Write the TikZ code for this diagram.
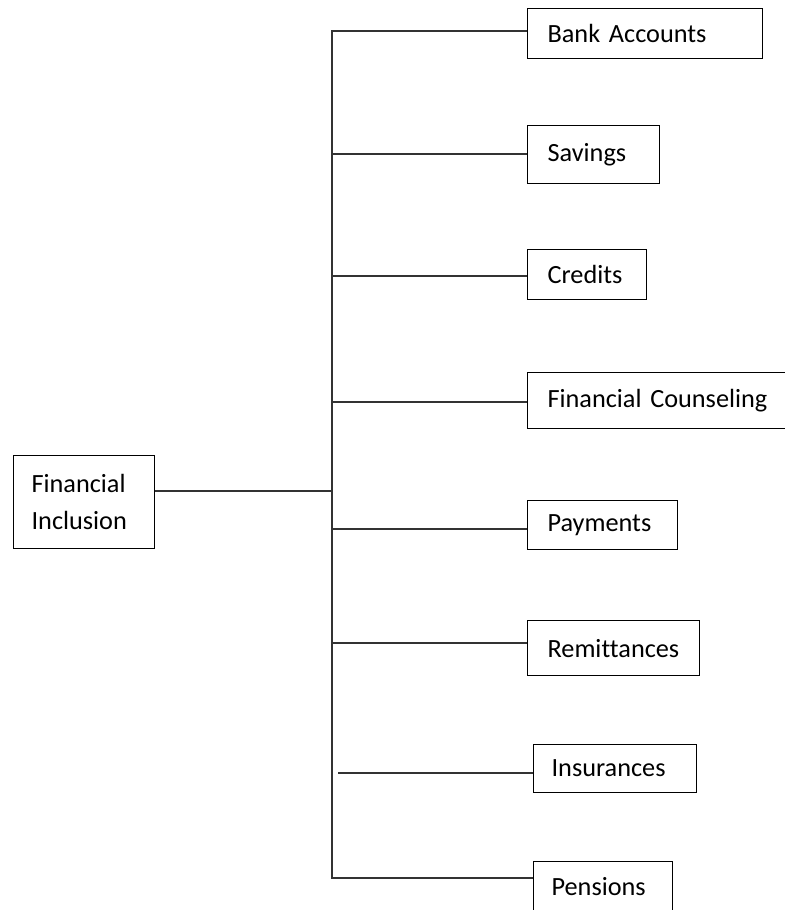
\documentclass[tikz,border=0pt]{standalone}
\usepackage{fontspec}
\setmainfont{Carlito}[Ligatures=NoCommon]
\usepackage{tikz}
\usetikzlibrary{calc}

\begin{document}
\begin{tikzpicture}[x=0.75pt,y=-0.75pt,line join=miter,
    item/.style={draw=black,line width=0.9pt,anchor=north west,align=left,
      inner xsep=15pt,inner ysep=0pt,font=\fontsize{19.7}{27.7}\selectfont},
    link/.style={draw=black!80,line width=1pt}]
  % canvas: 785 x 910 px, origin top left
  \useasboundingbox (0,0) rectangle (785,910);
  \clip (0,0) rectangle (785,910);
  % root box and the leaves on the right
  \node[item,inner xsep=13.5pt,text width=78.75pt,minimum height=69.75pt] (incl) at (13,455) {Financial\\Inclusion};
  \node[item,text width=146.25pt,minimum height=37.5pt] (bank) at (527,8) {Bank Accounts};
  \node[item,text width=69pt,minimum height=43.5pt] (sav) at (527,125) {Savings};
  \node[item,text width=59.25pt,minimum height=37.5pt] (cred) at (527,249) {Credits};
  \node[item,text width=165pt,minimum height=42pt] (couns) at (527,372) {Financial Counseling};
  \node[item,text width=82.5pt,minimum height=36.75pt] (pay) at (527,500) {Payments};
  \node[item,text width=99pt,minimum height=41.25pt] (remit) at (527,620) {Remittances};
  \node[item,inner xsep=13.5pt,text width=95pt,minimum height=36pt] (insur) at (533,744) {Insurances};
  \node[item,inner xsep=13.5pt,text width=77pt,minimum height=37.5pt] (pens) at (533,861) {Pensions};
  % trunk and branches
  \coordinate (top) at (332,31);
  \coordinate (bot) at (332,878);
  \coordinate (hub) at (332,491);
  \draw[link] (bank.west |- top) -- (top) -- (bot) -- (pens.west |- bot);
  \draw[link] (incl.east |- hub) -- (hub);
  \foreach \n/\y in {sav/154,cred/276,couns/402,pay/529,remit/643}
    \draw[link] (332,\y) coordinate (j) -- (\n.west |- j);
  \coordinate (jins) at (338,773);
  \draw[link] (jins) -- (insur.west |- jins);
\end{tikzpicture}
\end{document}
